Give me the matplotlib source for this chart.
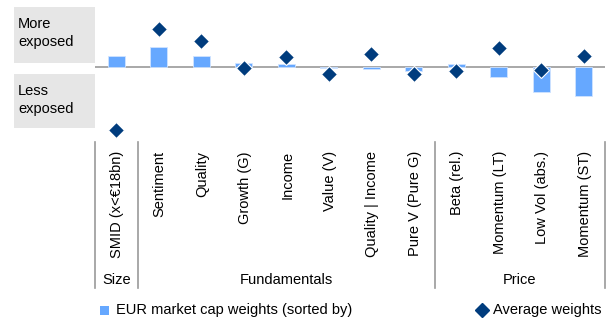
import matplotlib
matplotlib.use('Agg')
import matplotlib.pyplot as plt
from matplotlib.patches import Rectangle
from matplotlib.lines import Line2D

plt.rcParams['font.family'] = ['Liberation Sans', 'DejaVu Sans']

categories = ['SMID (x<€18bn)', 'Sentiment', 'Quality', 'Growth (G)', 'Income', 'Value (V)',
              'Quality | Income', 'Pure V (Pure G)', 'Beta (rel.)', 'Momentum (LT)',
              'Low Vol (abs.)', 'Momentum (ST)']
market_cap = [11, 20, 11, 4, 3.5, -1, -1.5, -4, 3, -10, -25, -29]
average = [-63, 38, 26, -1, 10, -7, 13, -6.5, -4, 19, -3, 11]
groups = ['Size', 'Fundamentals', 'Price']
group_span = [(0, 1), (1, 8), (8, 12)]

bar_col = '#66a8ff'
dia_col = '#003c7d'
grey = '#9a9a9a'

W, H = 611, 320
fig = plt.figure(figsize=(W / 100, H / 100), dpi=100)

def fx(px):
    return px / W

def fy(py):
    return 1 - py / H

# plot area in pixels
x0, x1 = 95, 605
ytop, ybot, ybase = 8, 140, 67
ax = fig.add_axes([fx(x0), fy(ybot), fx(x1 - x0), (ybot - ytop) / H])
n = len(categories)
xs = list(range(n))
ax.bar(xs, market_cap, width=0.4, color=bar_col, edgecolor='#cfe3ff', linewidth=0.6, zorder=2)
ax.plot(xs, average, linestyle='none', marker='D', markersize=8, color=dia_col,
        markeredgecolor='white', markeredgewidth=0.8, zorder=3)
ax.axhline(0, color=grey, linewidth=1.2, zorder=1)
ax.set_xlim(-0.5, n - 0.5)
ax.set_ylim(-(ybot - ybase), ybase - ytop)
ax.axis('off')

# left side boxes
for (top, bot, txt) in [(7, 63, 'More\nexposed'), (74, 128, 'Less\nexposed')]:
    fig.add_artist(Rectangle((fx(14), fy(bot)), fx(81), (bot - top) / H,
                             transform=fig.transFigure, facecolor='#e6e6e6', edgecolor='none'))
    fig.text(fx(18), fy(top + 10), txt, ha='left', va='top', fontsize=10.5, linespacing=1.4)

# category labels
step = (x1 - x0) / n
for i, c in enumerate(categories):
    cx = x0 + step * (i + 0.5)
    fig.text(fx(cx + 1), fy(151), c, rotation=90, ha='center', va='top', fontsize=10.5)

# group separators and labels
for i, (a, b) in enumerate(group_span):
    fig.text(fx(x0 + step * (a + b) / 2), fy(280), groups[i], ha='center', va='center', fontsize=10.5)
for a in [0, 1, 8, 12]:
    xp = x0 + step * a
    fig.add_artist(Line2D([fx(xp), fx(xp)], [fy(142), fy(288)], transform=fig.transFigure,
                          color=grey, linewidth=1.2))

# legend
fig.add_artist(Rectangle((fx(100), fy(315)), fx(9), 9 / H, transform=fig.transFigure,
                         facecolor=bar_col, edgecolor='none'))
fig.text(fx(116), fy(310), 'EUR market cap weights (sorted by)', ha='left', va='center', fontsize=10.5)
fig.add_artist(Line2D([fx(482)], [fy(310)], transform=fig.transFigure, marker='D',
                      markersize=7.5, color=dia_col, linestyle='none'))
fig.text(fx(493), fy(310), 'Average weights', ha='left', va='center', fontsize=10.5)

fig.savefig('out.png', dpi=100)
